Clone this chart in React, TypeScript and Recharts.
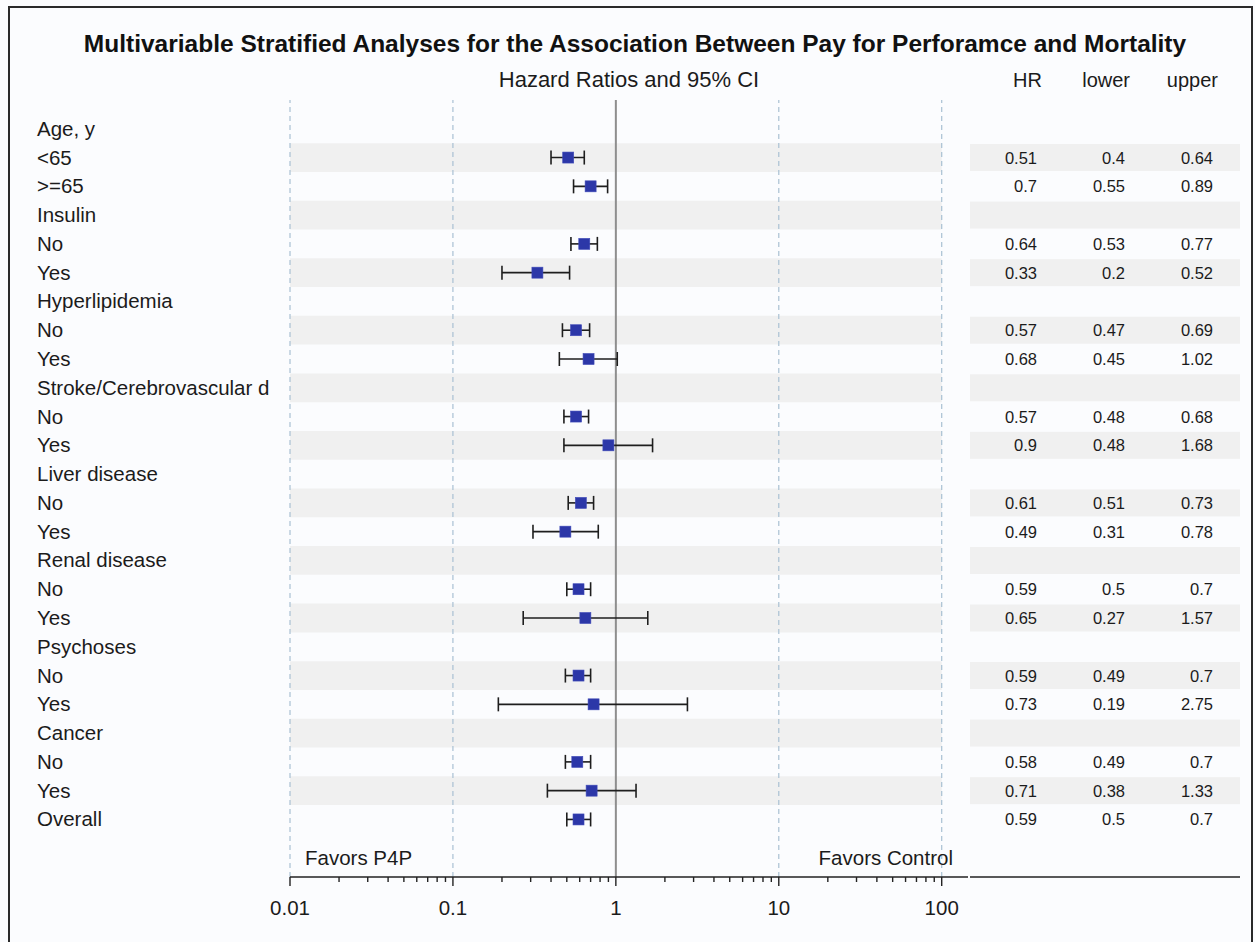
import React from 'react';
import { ScatterChart, Scatter, XAxis, YAxis, ErrorBar, ReferenceLine, ReferenceArea } from 'recharts';

const rowLabels = [
  'Age, y', '<65', '>=65',
  'Insulin', 'No', 'Yes',
  'Hyperlipidemia', 'No', 'Yes',
  'Stroke/Cerebrovascular d', 'No', 'Yes',
  'Liver disease', 'No', 'Yes',
  'Renal disease', 'No', 'Yes',
  'Psychoses', 'No', 'Yes',
  'Cancer', 'No', 'Yes',
  'Overall',
];
const hrValues = [null, 0.51, 0.7, null, 0.64, 0.33, null, 0.57, 0.68, null, 0.57, 0.9, null, 0.61, 0.49, null, 0.59, 0.65, null, 0.59, 0.73, null, 0.58, 0.71, 0.59];
const lowerValues = [null, 0.4, 0.55, null, 0.53, 0.2, null, 0.47, 0.45, null, 0.48, 0.48, null, 0.51, 0.31, null, 0.5, 0.27, null, 0.49, 0.19, null, 0.49, 0.38, 0.5];
const upperValues = [null, 0.64, 0.89, null, 0.77, 0.52, null, 0.69, 1.02, null, 0.68, 1.68, null, 0.73, 0.78, null, 0.7, 1.57, null, 0.7, 2.75, null, 0.7, 1.33, 0.7];

const xTicks = [
  0.01, 0.02, 0.03, 0.04, 0.05, 0.06, 0.07, 0.08, 0.09,
  0.1, 0.2, 0.3, 0.4, 0.5, 0.6, 0.7, 0.8, 0.9,
  1, 2, 3, 4, 5, 6, 7, 8, 9,
  10, 20, 30, 40, 50, 60, 70, 80, 90,
  100,
];
const majorTicks = [0.01, 0.1, 1, 10, 100];
const dashedRefs = [0.01, 0.1, 10, 100];
const xDomain = [0.01, 145];
const bandEnd = 100;
const tableHeaders = ['HR', 'lower', 'upper'];

const FONT = '"Liberation Sans", Arial, Helvetica, sans-serif';
const TXT = '#1b1b1b';

const rows = rowLabels.map((_, i) => i);
const data = rowLabels
  .map((label, i) => ({
    row: i,
    label,
    hr: hrValues[i],
    err: hrValues[i] == null ? null : [(hrValues[i] as number) - (lowerValues[i] as number), (upperValues[i] as number) - (hrValues[i] as number)],
  }))
  .filter((d) => d.hr != null);
const shadedRows = rows.filter((i) => i % 2 === 1);

const colRight = [1037, 1125, 1213];

const XTick = (props: any) => {
  const { x, y, payload } = props;
  const v = payload.value;
  const major = majorTicks.includes(v);
  return (
    <g>
      <line x1={x} x2={x} y1={y} y2={y + (major ? 9 : 5)} stroke="#222" strokeWidth={1.4} />
      {major && (
        <text x={x} y={y + 38} textAnchor="middle" fontSize={20.5} fill={TXT} fontFamily={FONT}>
          {String(v)}
        </text>
      )}
    </g>
  );
};

const YTick = (props: any) => {
  const { y, payload } = props;
  const i = payload.value as number;
  const vals = [hrValues[i], lowerValues[i], upperValues[i]];
  return (
    <g>
      {i % 2 === 1 && <rect x={970} y={y - 13.5} width={270} height={27} fill="#f0f0f0" />}
      <text x={37} y={y + 7} fontSize={20.5} fill={TXT} fontFamily={FONT}>
        {rowLabels[i]}
      </text>
      {vals.map((v, k) =>
        v == null ? null : (
          <text key={k} x={colRight[k]} y={y + 6} textAnchor="end" fontSize={16.5} fill={TXT} fontFamily={FONT}>
            {String(v)}
          </text>
        )
      )}
    </g>
  );
};

const Square = (props: any) => {
  const { cx, cy } = props;
  return <rect x={cx - 5.5} y={cy - 5.5} width={11} height={11} fill="#2c37a8" stroke="#3f4ab8" strokeWidth={0.6} />;
};

export default function App() {
  return (
    <div style={{ position: 'absolute', left: 0, top: 0, width: 1255, height: 942, background: '#fbfcfe', overflow: 'hidden' }}>
      <ScatterChart width={1255} height={942} margin={{ top: 100, right: 287, bottom: 0, left: 0 }}>
        {shadedRows.map((i) => (
          <ReferenceArea key={i} x1={xDomain[0]} x2={bandEnd} y1={i - 0.5} y2={i + 0.5} fill="#f0f0f0" fillOpacity={1} stroke="none" ifOverflow="hidden" />
        ))}
        {dashedRefs.map((v) => (
          <ReferenceLine key={v} x={v} stroke="#a9c0d3" strokeDasharray="5 4" strokeWidth={1.2} />
        ))}
        <ReferenceLine x={1} stroke="#8e8e8e" strokeWidth={2} />
        <XAxis
          type="number"
          dataKey="hr"
          scale="log"
          domain={xDomain}
          allowDataOverflow
          ticks={xTicks}
          interval={0}
          tickSize={0}
          tickMargin={0}
          tickLine={false}
          axisLine={{ stroke: '#222', strokeWidth: 1.6 }}
          tick={<XTick />}
          height={65}
        />
        <YAxis
          type="number"
          dataKey="row"
          domain={[-1, 26]}
          reversed
          allowDataOverflow
          ticks={rows}
          interval={0}
          tickSize={0}
          tickMargin={0}
          axisLine={false}
          tickLine={false}
          tick={<YTick />}
          width={290}
        />
        <Scatter data={data} shape={<Square />} isAnimationActive={false}>
          <ErrorBar dataKey="err" direction="x" width={7} stroke="#1e1e1e" strokeWidth={1.6} isAnimationActive={false} />
        </Scatter>
      </ScatterChart>
      <svg width={1255} height={942} style={{ position: 'absolute', left: 0, top: 0, pointerEvents: 'none' }}>
        <line x1={970} x2={1240} y1={877} y2={877} stroke="#222" strokeWidth={1.6} />
        <text x={635} y={52} textAnchor="middle" fontSize={24.5} fontWeight="bold" fill="#111" fontFamily={FONT}>
          Multivariable Stratified Analyses for the Association Between Pay for Perforamce and Mortality
        </text>
        <text x={629} y={87} textAnchor="middle" fontSize={22} fill={TXT} fontFamily={FONT}>
          Hazard Ratios and 95% CI
        </text>
        {tableHeaders.map((h, k) => (
          <text key={h} x={colRight[k] + 5} y={87} textAnchor="end" fontSize={20} fill={TXT} fontFamily={FONT}>
            {h}
          </text>
        ))}
        <text x={305} y={865} fontSize={20.5} fill={TXT} fontFamily={FONT}>
          Favors P4P
        </text>
        <text x={953} y={865} textAnchor="end" fontSize={20.5} fill={TXT} fontFamily={FONT}>
          Favors Control
        </text>
        <rect x={9} y={7} width={1243} height={960} fill="none" stroke="#2a2a2a" strokeWidth={2} />
      </svg>
    </div>
  );
}
